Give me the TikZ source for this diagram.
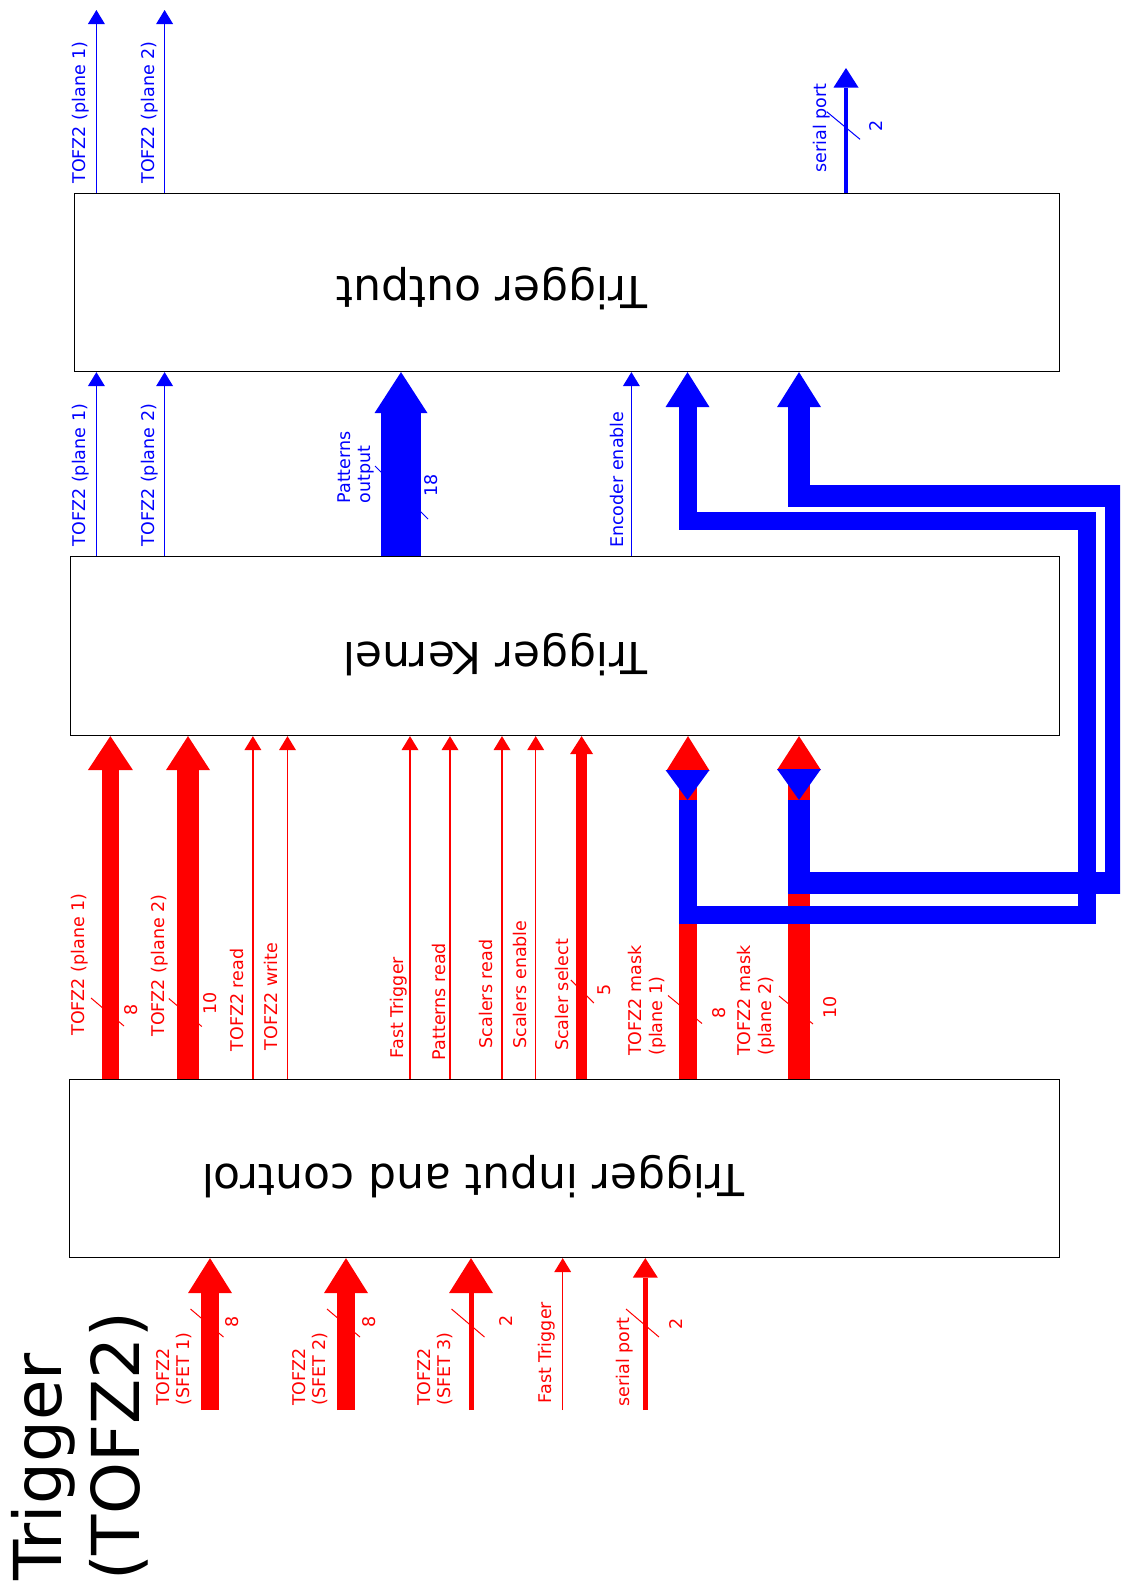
\documentclass[tikz,border=0pt]{standalone}
\usepackage{fontspec}
\setmainfont{DejaVu Sans}
\usetikzlibrary{arrows.meta,calc}
\begin{document}
\begin{tikzpicture}[x=1pt,y=-1pt,
  box/.style={draw=black,line width=1.1pt,inner sep=0pt},
  boxtitle/.style={rotate=180,inner sep=0pt,font=\fontsize{44}{52}\selectfont},
  lbl/.style={rotate=90,inner sep=0pt,font=\fontsize{17.5}{20.5}\selectfont},
  rlbl/.style={lbl,text=red},
  blbl/.style={lbl,text=blue},
  mlbl/.style={align=left,anchor=north west},
  arr/.style n args={3}{line width=#1pt,-{Triangle[length=#3pt 0 0,width=#2pt 0 0,line width=0pt 0 0]}},
  thinr/.style={draw=red,arr={1.2}{17}{14}},
  thinb/.style={draw=blue,arr={1.2}{17}{14}},
  slash/.style={line width=1pt},
]
\useasboundingbox (0,0) rectangle (1120,1582);
\clip (0,0) rectangle (1120,1582);

% ---------- boxes ----------
\node[box,minimum width=985pt,minimum height=178pt,anchor=north west] (out) at (74,193) {};
\node[box,minimum width=989.4pt,minimum height=179pt,anchor=north west] (ker) at (69.6,556) {};
\node[box,minimum width=990pt,minimum height=178pt,anchor=north west] (inp) at (69,1079) {};

\node[boxtitle] (outT) at (492,288.5) {Trigger output};
\node[boxtitle] (kerT) at (495.5,655) {Trigger Kernel};
\node[boxtitle] (inpT) at (473,1177) {Trigger input and control};

\node[rotate=90,inner sep=0pt,anchor=north west,align=left,font=\fontsize{66}{78}\selectfont] (big) at (11.5,1581) {Trigger\\(TOFZ2)};

% ---------- top section (outputs) ----------
\coordinate (t1) at (96.4,10);
\coordinate (t2) at (164.6,10);
\coordinate (tsp) at (846,68);
\draw[slash,blue] (843.3,125.5) ++(-16.6,-13.8) -- ++(33.3,27.6);
\draw[thinb] (out.north -| t1) -- (t1);
\draw[thinb] (out.north -| t2) -- (t2);
\draw[blue,arr={4.7}{25}{19.5}] (out.north -| tsp) -- (tsp);
\node[blbl] (lt1) at (80.8,112.5) {TOFZ2 (plane 1)};
\node[blbl] (lt2) at (149.5,112.5) {TOFZ2 (plane 2)};
\node[blbl] (ltsp) at (821.5,128) {serial port};
\node[blbl] (ntsp) at (876.3,126) {2};

% ---------- kernel -> output ----------
\coordinate (m1) at (96.4,0);
\coordinate (m2) at (164.6,0);
\coordinate (mpo) at (401,0);
\coordinate (menc) at (631.4,0);
\draw[slash,blue] (401.5,492.5) ++(-26.5,-26.5) -- ++(53,53);
\draw[thinb] (ker.north -| m1) -- (out.south -| m1);
\draw[thinb] (ker.north -| m2) -- (out.south -| m2);
\draw[blue,arr={40}{53}{41}] (ker.north -| mpo) -- (out.south -| mpo);
\draw[thinb] (ker.north -| menc) -- (out.south -| menc);
\node[blbl] (lm1) at (81,475) {TOFZ2 (plane 1)};
\node[blbl] (lm2) at (149.5,475) {TOFZ2 (plane 2)};
\node[blbl,mlbl] (lmpo) at (337.3,503.6) {Patterns\\output};
\node[blbl] (nmpo) at (431,485) {18};
\node[blbl] (lmenc) at (617,479.7) {Encoder enable};

% ---------- input -> kernel (red) ----------
\coordinate (k1) at (110.4,0);
\coordinate (k2) at (188,0);
\coordinate (k3) at (252.9,0);
\coordinate (k4) at (287.5,0);
\coordinate (k5) at (410,0);
\coordinate (k6) at (450,0);
\coordinate (k7) at (502,0);
\coordinate (k8) at (535.7,0);
\coordinate (k9) at (581.6,0);
\coordinate (k10) at (688,0);
\coordinate (k11) at (799,0);
\draw[slash,red] (107.5,1012) ++(-16.5,-14) -- ++(33,28);
\draw[slash,red] (185.3,1012.5) ++(-16.5,-14) -- ++(33,28);
\draw[slash,red] (582.3,991.5) ++(-11.5,-11.5) -- ++(23,23);
\draw[slash,red] (685,1009.5) ++(-17,-14) -- ++(34,28);
\draw[slash,red] (796,1010) ++(-17,-14) -- ++(34,28);
\draw[red,arr={17}{45}{34}] (inp.north -| k1) -- (ker.south -| k1);
\draw[red,arr={21.5}{44}{34}] (inp.north -| k2) -- (ker.south -| k2);
\draw[thinr] (inp.north -| k3) -- (ker.south -| k3);
\draw[thinr] (inp.north -| k4) -- (ker.south -| k4);
\draw[thinr] (inp.north -| k5) -- (ker.south -| k5);
\draw[thinr] (inp.north -| k6) -- (ker.south -| k6);
\draw[thinr] (inp.north -| k7) -- (ker.south -| k7);
\draw[thinr] (inp.north -| k8) -- (ker.south -| k8);
\draw[red,arr={11.5}{23}{18}] (inp.north -| k9) -- (ker.south -| k9);
\draw[red,arr={18}{43}{34.5}] (inp.north -| k10) -- (ker.south -| k10);
\draw[red,arr={22}{44}{34}] (inp.north -| k11) -- (ker.south -| k11);
\node[rlbl] (lk1) at (79.3,964.5) {TOFZ2 (plane 1)};
\node[rlbl] (nk1) at (131,1010) {8};
\node[rlbl] (lk2) at (160,965.5) {TOFZ2 (plane 2)};
\node[rlbl] (nk2) at (209.8,1003) {10};
\node[rlbl] (lk3) at (236.6,1000) {TOFZ2 read};
\node[rlbl] (lk4) at (271.3,996.5) {TOFZ2 write};
\node[rlbl] (lk5) at (398.5,1007.5) {Fast Trigger};
\node[rlbl] (lk6) at (439,1001.5) {Patterns read};
\node[rlbl] (lk7) at (485.8,994) {Scalers read};
\node[rlbl] (lk8) at (519.8,984.5) {Scalers enable};
\node[rlbl] (lk9) at (561.5,995) {Scaler select};
\node[rlbl] (nk9) at (604,990) {5};
\node[rlbl,mlbl] (lk10) at (628,1056) {TOFZ2 mask\\(plane 1)};
\node[rlbl] (nk10) at (719.5,1013) {8};
\node[rlbl,mlbl] (lk11) at (737,1056) {TOFZ2 mask\\(plane 2)};
\node[rlbl] (nk11) at (830.5,1007) {10};

% ---------- mask buses kernel -> output (blue) ----------
\fill[blue] (665.5,770) -- (709.5,770) -- (687.5,800) -- cycle;
\fill[blue] (777,769) -- (821,769) -- (799,800) -- cycle;
\coordinate (b1s) at (687.5,800);
\coordinate (b1a) at (687.5,914.5);
\coordinate (b1b) at (1086.5,914.5);
\coordinate (b1c) at (1086.5,521);
\coordinate (b1d) at (687.5,521);
\draw[blue,arr={18}{44}{35}] (b1s) -- (b1a) -- (b1b) -- (b1c) -- (b1d) -- (out.south -| b1d);
\coordinate (b2s) at (799,800);
\coordinate (b2a) at (799,882.5);
\coordinate (b2b) at (1116,882.5);
\coordinate (b2c) at (1116,496);
\coordinate (b2d) at (799,496);
\draw[blue,arr={22}{44}{35}] (b2s) -- (b2a) -- (b2b) -- (b2c) -- (b2d) -- (out.south -| b2d);

% ---------- bottom inputs (red) ----------
\coordinate (s1) at (210,1410);
\coordinate (s2) at (346,1410);
\coordinate (s3) at (471,1410);
\coordinate (s4) at (562.7,1410);
\coordinate (s5) at (645.3,1410);
\draw[slash,red] (207,1323) ++(-16.5,-14) -- ++(33,28);
\draw[slash,red] (343.5,1323) ++(-16.5,-14) -- ++(33,28);
\draw[slash,red] (468,1323) ++(-16.5,-14) -- ++(33,28);
\draw[slash,red] (642.5,1323) ++(-16.5,-14) -- ++(33,28);
\draw[red,arr={18.4}{44}{35}] (s1) -- (inp.south -| s1);
\draw[red,arr={18}{44}{35}] (s2) -- (inp.south -| s2);
\draw[red,arr={5}{44}{35}] (s3) -- (inp.south -| s3);
\draw[thinr] (s4) -- (inp.south -| s4);
\draw[red,arr={4.5}{25}{19.5}] (s5) -- (inp.south -| s5);
\node[rlbl,mlbl] (ls1) at (156,1406) {TOFZ2\\(SFET 1)};
\node[rlbl] (ns1) at (232,1321.5) {8};
\node[rlbl,mlbl] (ls2) at (292,1406) {TOFZ2\\(SFET 2)};
\node[rlbl] (ns2) at (369.5,1321.5) {8};
\node[rlbl,mlbl] (ls3) at (417,1406) {TOFZ2\\(SFET 3)};
\node[rlbl] (ns3) at (506,1320.5) {2};
\node[rlbl] (ls4) at (546.7,1352.5) {Fast Trigger};
\node[rlbl] (ls5) at (625,1361.7) {serial port};
\node[rlbl] (ns5) at (676.3,1323.7) {2};
\end{tikzpicture}
\end{document}
